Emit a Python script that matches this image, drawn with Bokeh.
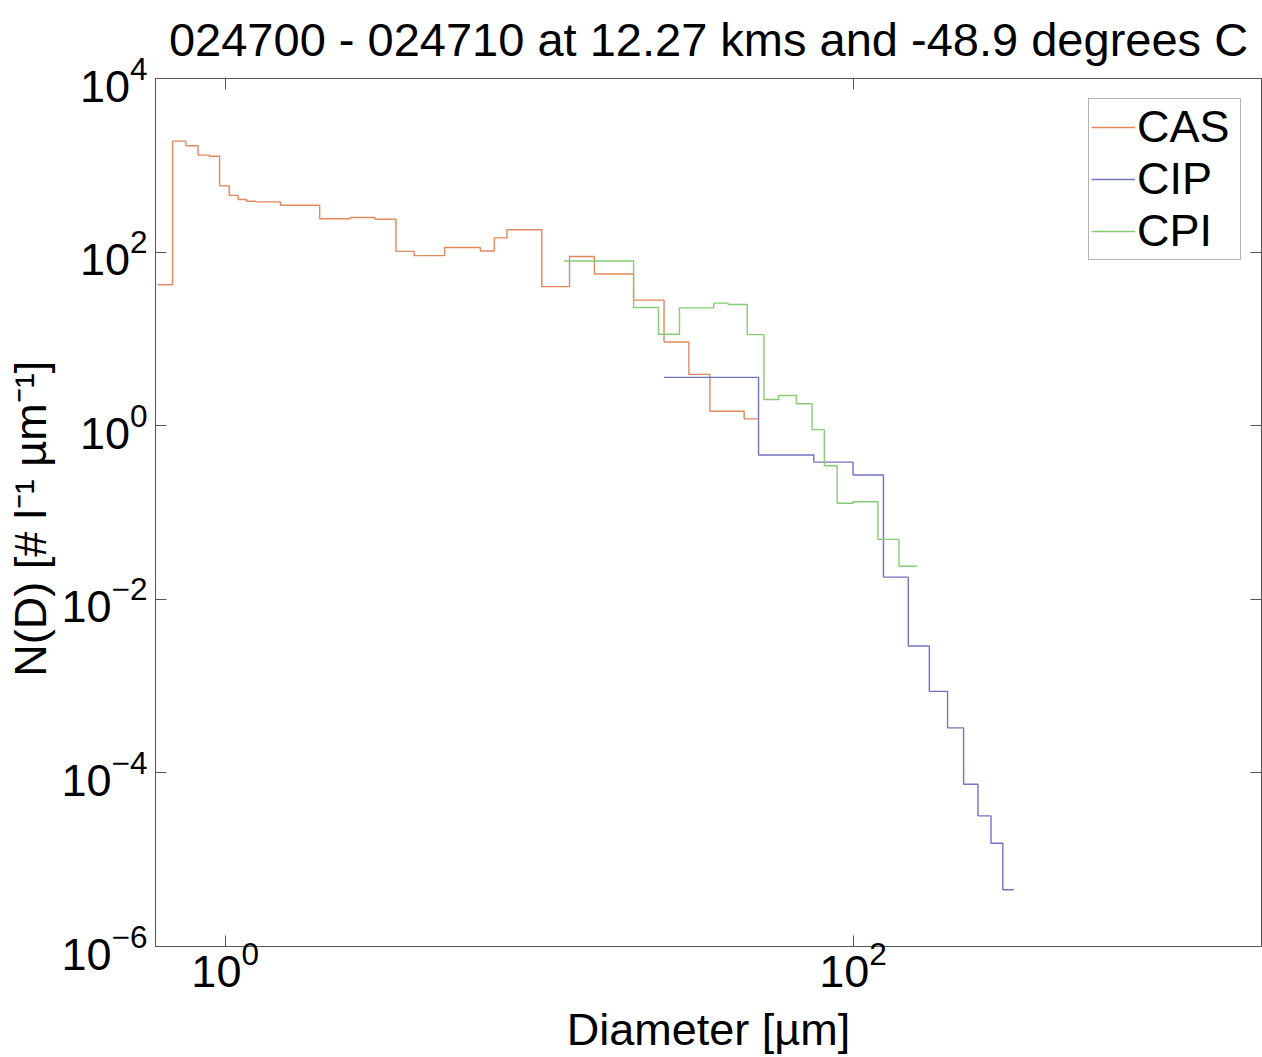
from bokeh.plotting import figure
from bokeh.models import FixedTicker, Legend, LegendItem, LogAxis, Range1d, LogTickFormatter
from bokeh.embed import file_html
from bokeh.resources import INLINE

# ---------------- data ----------------
cas_edges = [0.61, 0.68, 0.75, 0.82, 0.89, 0.96, 1.03, 1.1, 1.17, 1.25, 1.5, 2.0, 2.5,
             3.0, 3.5, 4.0, 5.0, 6.5, 7.2, 7.9, 10.2, 12.5, 15, 20, 25, 30, 35, 40, 45, 50]
cas_values = [42, 1900, 1680, 1310, 1270, 580, 450, 403, 386, 379, 347, 242, 250,
              239, 102, 91, 113, 103, 146, 181, 40, 89, 56, 28, 9.2, 3.9, 1.47, 1.47, 1.2]

cip_edges = [25, 50, 75, 100, 125, 150, 175, 200, 225, 250, 275, 300, 325]
cip_values = [3.6, 0.46, 0.38, 0.27, 0.018, 0.0029, 8.7e-4, 3.3e-4, 7.4e-5, 3.2e-5,
              1.55e-5, 4.5e-6]

cpi_edges = [12, 20, 24, 28, 36, 40, 46, 52, 58, 66, 74, 81, 89, 100, 120, 140, 160]
cpi_values = [79, 23, 11.3, 22.8, 25.8, 24.9, 11.2, 2.0, 2.23, 1.79, 0.9, 0.345,
              0.128, 0.133, 0.049, 0.024]

x_ticks = [1, 100]
y_ticks = [1e-6, 1e-4, 1e-2, 1, 1e2, 1e4]

title_text = "024700 - 024710 at 12.27 kms and -48.9 degrees C"
x_label_text = "Diameter [\u00b5m]"
y_label_text = "N(D) [# l\u207b\u00b9  \u00b5m\u207b\u00b9]"

series_names = ["CAS", "CIP", "CPI"]
series_colors = ["#E3875F", "#7373C0", "#86CC74"]

X_MIN, X_MAX = 0.6, 2000
Y_MIN, Y_MAX = 1e-6, 1e4

# ---------------- styling ----------------
FONT = "Liberation Sans"
BASE = "45px"
AXIS_COLOR = "#555555"

p = figure(width=1262, height=1057, x_axis_type="log", y_axis_type="log",
           x_range=Range1d(X_MIN, X_MAX), y_range=Range1d(Y_MIN, Y_MAX),
           output_backend="svg", toolbar_location=None,
           min_border_left=155, min_border_right=1, min_border_top=78, min_border_bottom=111)
p.background_fill_color = "white"
p.border_fill_color = "white"
p.outline_line_color = AXIS_COLOR
p.xgrid.visible = False
p.ygrid.visible = False

p.title.text = title_text
p.title.align = "center"
p.title.vertical_align = "top"
p.title.text_font = FONT
p.title.text_font_size = "47px"
p.title.text_font_style = "normal"
p.title.text_color = "black"
p.title.standoff = 22


def style_axis(ax, ticks, show_labels):
    ax.ticker = FixedTicker(ticks=ticks, minor_ticks=[])
    ax.axis_line_color = AXIS_COLOR
    ax.major_tick_line_color = AXIS_COLOR
    ax.major_tick_in = 11
    ax.major_tick_out = 0
    ax.minor_tick_line_color = None
    if show_labels:
        ax.formatter = LogTickFormatter()
        ax.major_label_text_font = FONT
        ax.major_label_text_font_size = BASE
        ax.major_label_text_color = "black"
    else:
        ax.major_label_overrides = {t: "" for t in ticks}
        ax.major_label_text_font_size = "1px"
        ax.major_label_text_alpha = 0
        ax.major_label_standoff = 0


style_axis(p.xaxis[0], x_ticks, True)
style_axis(p.yaxis[0], y_ticks, True)
p.xaxis[0].major_label_standoff = -6
p.yaxis[0].major_label_standoff = 8

p.xaxis[0].axis_label = x_label_text
p.yaxis[0].axis_label = y_label_text
for ax in (p.xaxis[0], p.yaxis[0]):
    ax.axis_label_text_font = FONT
    ax.axis_label_text_font_size = BASE
    ax.axis_label_text_font_style = "normal"
    ax.axis_label_text_color = "black"
p.xaxis[0].axis_label_standoff = 14
p.yaxis[0].axis_label_standoff = 3

top_ax = LogAxis()
style_axis(top_ax, x_ticks, False)
p.add_layout(top_ax, "above")
right_ax = LogAxis()
style_axis(right_ax, y_ticks, False)
p.add_layout(right_ax, "right")

# ---------------- step lines ----------------
renderers = []
for edges, vals, col in [(cas_edges, cas_values, series_colors[0]),
                         (cip_edges, cip_values, series_colors[1]),
                         (cpi_edges, cpi_values, series_colors[2])]:
    r = p.step(x=edges, y=list(vals) + [vals[-1]], mode="after", line_color=col, line_width=1.4)
    renderers.append(r)

legend = Legend(items=[LegendItem(label=n, renderers=[r]) for n, r in zip(series_names, renderers)],
                location="top_right")
legend.label_text_font = FONT
legend.label_text_font_size = BASE
legend.label_text_color = "black"
legend.glyph_width = 44
legend.glyph_height = 48
legend.label_height = 48
legend.label_width = 101
legend.label_standoff = 2
legend.spacing = 0
legend.padding = 2
legend.margin = 20
legend.border_line_color = "#666666"
legend.border_line_width = 1
legend.background_fill_color = "white"
p.add_layout(legend)

open("out.html", "w").write(file_html(p, INLINE))
